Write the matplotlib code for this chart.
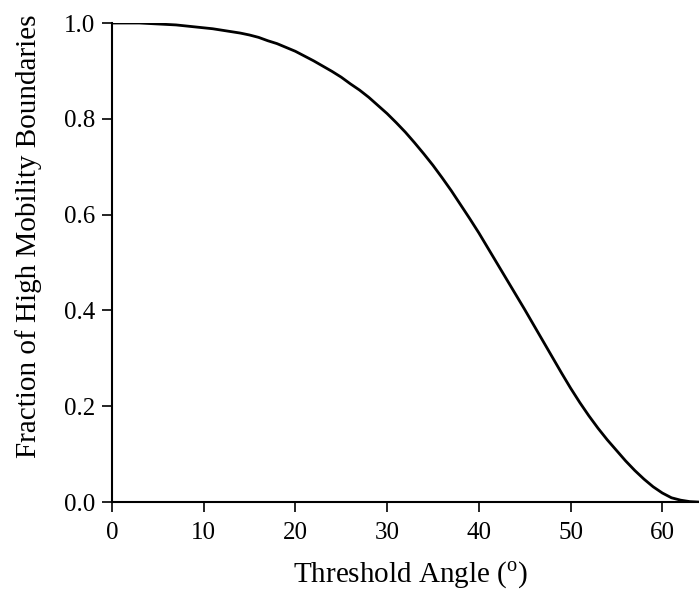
import numpy as np
import matplotlib.pyplot as plt

plt.rcParams['font.family'] = ['Liberation Serif', 'DejaVu Serif']
plt.rcParams['mathtext.fontset'] = 'custom'
plt.rcParams['mathtext.rm'] = 'Liberation Serif'

# threshold angle (deg) and fraction
angle = list(range(0, 65))
fraction = [1.000, 1.000, 1.000, 1.000, 0.999, 0.998, 0.997, 0.996, 0.994, 0.992,
            0.990, 0.988, 0.985, 0.982, 0.979, 0.975, 0.970, 0.963, 0.957, 0.949,
            0.941, 0.931, 0.921, 0.910, 0.899, 0.887, 0.873, 0.860, 0.845, 0.828,
            0.811, 0.792, 0.772, 0.750, 0.727, 0.703, 0.677, 0.650, 0.621, 0.592,
            0.562, 0.530, 0.498, 0.466, 0.434, 0.402, 0.369, 0.336, 0.303, 0.270,
            0.238, 0.208, 0.180, 0.154, 0.130, 0.108, 0.086, 0.066, 0.048, 0.032,
            0.019, 0.009, 0.004, 0.001, 0.000]

fig = plt.figure(figsize=(6.99, 5.9), dpi=100)
ax = fig.add_axes([0.160, 0.149, 0.840, 0.812])

ax.plot(angle, fraction, color='k', linewidth=2.0, solid_joinstyle='round')

ax.set_xlim(0, 64)
ax.set_ylim(0, 1.0)
ax.set_xticks([0, 10, 20, 30, 40, 50, 60])
ax.set_yticks([0.0, 0.2, 0.4, 0.6, 0.8, 1.0])
ax.set_yticklabels(['0.0', '0.2', '0.4', '0.6', '0.8', '1.0'])

for s in ['top', 'right']:
    ax.spines[s].set_visible(False)
for s in ['left', 'bottom']:
    ax.spines[s].set_linewidth(1.5)

ax.tick_params(direction='out', length=7, width=1.2, labelsize=18, color='k')
ax.tick_params(axis='x', pad=7)
ax.tick_params(axis='y', pad=5)

ax.set_xlabel(r'Threshold Angle ($^{\mathrm{o}}$)', fontsize=21)
ax.xaxis.set_label_coords(0.509, -0.121)
ax.set_ylabel('Fraction of High Mobility Boundaries', fontsize=21)
ax.yaxis.set_label_coords(-0.119, 0.555)

fig.savefig('out.png', dpi=100)
